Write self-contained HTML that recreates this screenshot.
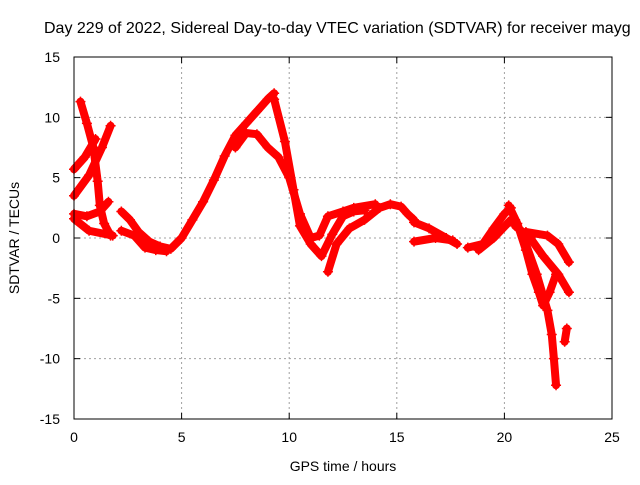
<!DOCTYPE html>
<html><head><meta charset="utf-8"><style>
body{margin:0;background:#fff;overflow:hidden}
svg text{font-family:"Liberation Sans",sans-serif;font-size:14px;fill:#000}
</style></head><body>
<svg id="c" width="640" height="480"></svg>
<script>
const xTicks=[0,5,10,15,20,25];
const yTicks=[15,10,5,0,-5,-10,-15];
const trackA=[[0.3,11.3],[0.6,9.5],[0.9,7.5],[1.1,4.7],[1.2,2.7],[1.4,1.2],[1.7,0.2]];
const trackB=[[0,5.7],[0.5,6.7],[1.0,8.2]];
const trackC=[[0,3.5],[0.7,5.2],[1.3,7.5],[1.7,9.3]];
const trackD=[[0,1.6],[0.7,0.6],[1.8,0.2]];
const trackE=[[0,2],[0.6,1.8],[1.2,2.2],[1.6,3]];
const trackF=[[2.2,2.2],[2.6,1.5],[3,0.5],[3.5,-0.3],[4,-0.7],[4.5,-0.9],[5,0],[5.5,1.5],[6,3],[6.5,4.8],[7,6.8],[7.5,8.5],[8,9.5],[8.5,10.5],[9,11.5],[9.3,12]];
const trackG=[[9.3,11.5],[9.8,8],[10.2,4],[10.5,1],[11,-0.5],[11.5,-1.5],[12,0.3],[12.5,1.8],[13,2.2],[13.5,2.3]];
const trackH=[[7.5,7.5],[8,8.7],[8.5,8.6],[9,7.5],[9.5,6.7],[10,5],[10.5,2],[11,0],[11.4,0.2],[11.8,1.8],[12.5,2.2],[13,2.5],[14,2.8]];
const trackI=[[11.8,-2.8],[12.2,-0.5],[12.8,0.8],[13.5,1.5],[14.2,2.5],[14.7,2.8],[15.2,2.6],[15.5,2],[15.8,1.5]];
const trackJ=[[2.2,0.6],[2.8,0.2],[3.3,-0.8],[3.8,-1],[4.3,-1.1]];
const trackK=[[15.8,1.3],[16.5,0.8],[17.3,0],[17.8,-0.5]];
const trackL=[[15.8,-0.3],[16.8,0],[17.6,-0.2]];
const trackM=[[18.3,-0.8],[19,-0.5],[19.5,0.8],[20,2],[20.3,2.5]];
const trackN=[[18.8,-1],[19.5,0],[20.3,1.5]];
const trackO=[[20.2,2.7],[20.6,1.2],[21,-1],[21.3,-3],[21.6,-4.5],[21.8,-5.6],[22.1,-4.5],[22.4,-3]];
const trackP=[[20.5,1.5],[21,-0.5],[21.5,-3],[22,-6],[22.2,-8],[22.3,-10],[22.4,-12.2]];
const trackQ=[[20.5,1],[21.2,0],[21.8,-1.5],[22.5,-3],[23,-4.5]];
const trackR=[[21,0.5],[22,0.2],[22.5,-0.5],[23,-2]];
const trackS=[[22.8,-8.6],[22.9,-7.5]];
const tracks=[trackA,trackB,trackC,trackD,trackE,trackF,trackG,trackH,trackI,trackJ,trackK,trackL,trackM,trackN,trackO,trackP,trackQ,trackR,trackS];

const L=74,R=612,T=57,B=419;
const X=t=>L+(t-0)/25*(R-L);
const Y=v=>B-(v+15)/30*(B-T);
const NS="http://www.w3.org/2000/svg";
const svg=document.getElementById('c');
function mk(tag,at){const e=document.createElementNS(NS,tag);for(const k in at)e.setAttribute(k,at[k]);svg.appendChild(e);return e;}

const title=mk('text',{x:44,y:33,style:'font-size:16px'});
title.textContent='Day 229 of 2022, Sidereal Day-to-day VTEC variation (SDTVAR) for receiver mayg';



xTicks.forEach(t=>{
  if(t>0&&t<25){const g=mk('line',{x1:X(t),x2:X(t),y1:T,y2:B,stroke:'#a0a0a0','stroke-dasharray':'2,3'});
  
  }
  mk('line',{x1:X(t),x2:X(t),y1:B,y2:B-6,stroke:'#000'});
  mk('line',{x1:X(t),x2:X(t),y1:T,y2:T+6,stroke:'#000'});
  const lb=mk('text',{x:X(t),y:B+23,'text-anchor':'middle'});lb.textContent=t;
  
  
});
yTicks.forEach(v=>{
  if(v>-15&&v<15){const g=mk('line',{x1:L,x2:R,y1:Y(v),y2:Y(v),stroke:'#a0a0a0','stroke-dasharray':'2,3'});
  
  }
  mk('line',{x1:L,x2:L+6,y1:Y(v),y2:Y(v),stroke:'#000'});
  mk('line',{x1:R,x2:R-6,y1:Y(v),y2:Y(v),stroke:'#000'});
  const lb=mk('text',{x:L-14,y:Y(v)+5,'text-anchor':'end'});lb.textContent=v;
  
  
});

tracks.forEach(tr=>{
  const pts=tr.map(p=>X(p[0])+','+Y(p[1])).join(' ');
  const pl=mk('polyline',{points:pts,fill:'none',stroke:'#ff0000','stroke-width':8,'stroke-linejoin':'round','stroke-linecap':'round'});
  
  
  tr.forEach(p=>{
    const x=X(p[0]),y=Y(p[1]);
    const m=mk('path',{d:`M${x-5} ${y}H${x+5}M${x} ${y-5}V${y+5}`,stroke:'#ff0000','stroke-width':1.5});
    
    
  });
});

const box=mk('rect',{x:L,y:T,width:R-L,height:B-T,fill:'none',stroke:'#000'});



const xt=mk('text',{x:(L+R)/2,y:471,'text-anchor':'middle'});xt.textContent='GPS time / hours';


const yt=mk('text',{x:0,y:0,'text-anchor':'middle',transform:`translate(19,${(T+B)/2}) rotate(-90)`});yt.textContent='SDTVAR / TECUs';


</script>
</body></html>
